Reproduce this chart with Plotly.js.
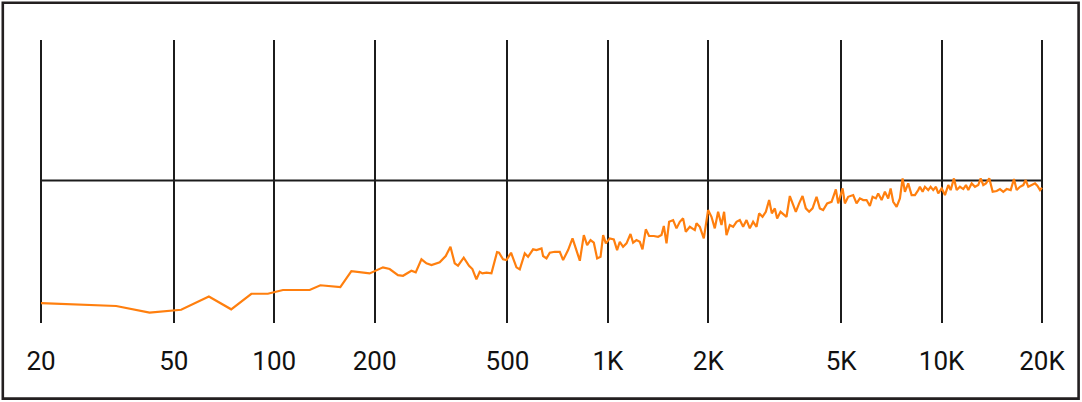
<!DOCTYPE html>
<html>
<head>
<meta charset="utf-8">
<script src="https://cdn.plot.ly/plotly-3.0.1.min.js"></script>
<style>
  html, body { margin: 0; padding: 0; background: #ffffff; }
  #chart { width: 1082px; height: 402px; }
</style>
</head>
<body>
<div id="chart"></div>
<script>
// Frequency (Hz)
const freq = [
  20, 33.6, 42.3, 52.6, 63.7, 74.3, 85.4, 95.7, 106.2, 127.7, 137.5, 157.8, 170.3,
  180.3, 193.2, 211.8, 221.8, 234.9, 243.2, 257.7, 265.5, 276.2, 285.9, 296.0, 313.3,
  326.6, 337.4, 347.5, 355.5, 369.8, 383.6, 392.6, 403.6, 412.9, 420.7, 432.5, 447.7,
  465.4, 471.8, 485.1, 496.6, 512.6, 532.1, 544.4,
  563.5, 576.5, 596.8, 611.0, 632.4, 639.4, 654.6, 669.7, 693.2, 717.6, 734.1, 759.9,
  783.4, 801.4, 823.9, 847.0, 866.5, 887.1, 907.5, 928.5, 950.6, 967.8, 985.8, 1013.2,
  1041.6, 1065.6, 1085.6, 1110.6, 1137.0, 1168.8, 1190.0, 1218.2, 1246.3, 1269.7, 1299.0,
  1328.9, 1372.7, 1414.1, 1447.7, 1470.9, 1498.6, 1525.7, 1568.5, 1605.4, 1642.4, 1680.3,
  1712.0, 1760.0,
  1821.7, 1843.2, 1885.6, 1938.4, 1996.6, 2044.0, 2091.2, 2139.4, 2190.2, 2229.9, 2267.2,
  2319.4, 2372.9, 2429.3, 2485.3, 2542.6, 2602.9, 2662.9, 2724.3, 2789.0, 2839.6, 2907.0,
  2974.0, 3042.6, 3099.9, 3164.8, 3215.5, 3291.4, 3367.2, 3430.6, 3509.7, 3590.6, 3658.2,
  3742.5, 3831.4, 3919.7, 4009.9, 4105.2, 4220.2, 4317.5, 4417.0, 4540.8, 4681.0, 4822.1,
  4899.4, 5050.8, 5131.7, 5250.0, 5434.4, 5562.5, 5691.0, 5822.3, 5960.6, 6098.0,
  6213.1, 6356.4, 6458.2, 6611.7, 6764.2, 6920.0, 7035.7, 7163.2, 7333.4, 7502.4, 7643.3,
  7765.6, 7944.6, 8133.3, 8320.8, 8512.6, 8613.1, 8775.2, 8915.7, 9121.3, 9273.7, 9441.8,
  9619.6, 9773.6, 10009, 10237, 10474, 10649, 10894, 11099, 11355, 11617, 11835, 12025,
  12310, 12594, 12884, 13099, 13336, 13587, 13900, 14230, 14629, 14966, 15311, 15674,
  16113, 16482, 16793, 17180, 17578, 17871, 18197, 18628, 19060, 19364, 19729, 20000
];

// Level (dB)
const level = [
  -13.0, -13.3, -14.0, -13.7, -12.3, -13.65, -12.0, -12.0, -11.6, -11.6, -11.1, -11.3, -9.6,
  -9.7, -9.84, -9.2, -9.38, -10.02, -10.09, -9.56, -9.73, -8.35, -8.78, -8.96, -8.67,
  -8.0, -7.02, -8.78, -9.03, -8.18, -9.03, -9.38, -10.47, -9.67, -9.84, -9.77, -9.84,
  -7.58, -7.65, -8.35, -8.43, -7.65, -9.2, -9.41,
  -7.72, -8.08, -7.29, -7.37, -7.19, -8.0, -8.25, -7.65, -7.55, -7.55, -8.43, -7.37,
  -6.13, -7.19, -8.5, -5.78, -6.84, -6.31, -6.59, -8.25, -8.08, -5.78, -6.66, -6.13,
  -6.23, -7.37, -6.49, -7.02, -6.66, -5.67, -6.59, -6.31, -6.49, -7.29, -5.17,
  -5.88, -5.88, -5.96, -5.78, -4.82, -6.66, -4.37, -4.19, -5.07, -4.37, -4.01,
  -5.43, -4.9,
  -5.25, -4.54, -4.9, -6.13, -3.13, -3.84, -5.07, -3.31, -4.72, -3.31, -5.78,
  -4.72, -4.9, -4.37, -4.19, -4.9, -4.19, -5.07, -4.37, -4.9, -3.48, -3.84,
  -3.31, -2.07, -3.48, -2.95, -4.01, -3.31, -3.66, -3.84, -1.64, -2.6, -3.31,
  -2.42, -1.64, -2.95, -3.31, -2.95, -1.72, -2.95, -3.13, -2.42, -2.25, -0.93,
  -2.42, -0.83, -2.42, -1.72, -1.54, -2.42, -1.89, -2.07, -2.07, -2.7,
  -1.72, -1.89, -1.36, -2.07, -1.19, -1.89, -0.83, -2.25, -2.78, -1.89, 0.23,
  -1.19, -0.3, -1.54, -1.54, -1.01, -0.66, -1.19, -0.66, -1.01, -0.66, -1.01,
  -0.66, -1.36, -0.83, -1.54, -0.48, -1.01, 0.23, -1.01, -0.66, -0.9, -0.48, -1.01,
  -0.3, -0.66, -0.48, 0.23, -0.48, -0.3, 0.23, -1.19, -1.11, -0.9, -1.19, -0.9,
  -1.01, 0.16, -1.01, -0.66, -0.48, 0.05, -0.66, -0.48, -0.3, -0.55, -1.01, -0.76
];

const tickVals = [20, 50, 100, 200, 500, 1000, 2000, 5000, 10000, 20000];
const tickText = ['20', '50', '100', '200', '500', '1K', '2K', '5K', '10K', '20K'];

const fMin = 20, fMax = 20000;
const yRange = [-15.1, 14.9];
const refLevel = 0;

const trace = {
  x: freq,
  y: level,
  type: 'scatter',
  mode: 'lines',
  line: { color: '#ff7f0e', width: 2.2 },
  hoverinfo: 'skip'
};

const mL = 39, mR = 38, mT = 40, mB = 79;
const W = 1082, H = 402;
const pw = W - mL - mR, ph = H - mT - mB;
const px = v => (v - mL) / pw;
const py = v => (H - mB - v) / ph;
// pad the log range by ~2px each side so the edge grid lines are drawn
const decades = Math.log10(fMax) - Math.log10(fMin);
const pad = 2 * decades / (pw - 4);
const edge = pad / (decades + 2 * pad);

const layout = {
  width: W,
  height: H,
  margin: { l: mL, r: mR, t: mT, b: mB, pad: 0 },
  paper_bgcolor: '#ffffff',
  plot_bgcolor: '#ffffff',
  showlegend: false,
  font: { family: 'Roboto, "Liberation Sans", sans-serif', color: '#111111', size: 26 },
  xaxis: {
    type: 'log',
    range: [Math.log10(fMin) - pad, Math.log10(fMax) + pad],
    tickmode: 'array',
    tickvals: tickVals,
    ticktext: tickText,
    showgrid: true,
    gridcolor: '#1c1c1c',
    gridwidth: 2,
    zeroline: false,
    showline: false,
    ticks: '',
    tickfont: { size: 26, color: '#111111' },
    ticklabelstandoff: 20,
    fixedrange: true
  },
  yaxis: {
    range: yRange,
    showgrid: false,
    zeroline: false,
    showticklabels: false,
    ticks: '',
    showline: false,
    fixedrange: true
  },
  shapes: [
    {
      type: 'line', xref: 'paper', yref: 'y',
      x0: edge, x1: 1 - edge, y0: refLevel, y1: refLevel,
      line: { color: '#1c1c1c', width: 2 },
      layer: 'below'
    },
    {
      type: 'rect', xref: 'paper', yref: 'paper',
      x0: px(2.8), x1: px(1078.6), y0: py(398.6), y1: py(2.8),
      line: { color: '#231f20', width: 2.6 },
      fillcolor: 'rgba(0,0,0,0)',
      layer: 'above'
    }
  ]
};

Plotly.newPlot('chart', [trace], layout, { staticPlot: true, displayModeBar: false });
</script>
</body>
</html>
